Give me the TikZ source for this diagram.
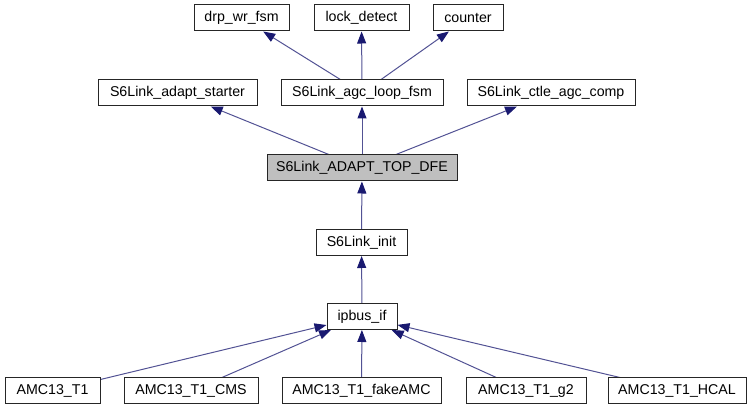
\documentclass[tikz,border=0pt]{standalone}
\usepackage{fontspec}
\setmainfont{Liberation Sans}
\usepackage{tikz}
\usetikzlibrary{arrows.meta}
\pgfdeclarelayer{bg}
\pgfsetlayers{bg,main}
\definecolor{midnight}{HTML}{191970}
\definecolor{topgray}{HTML}{BFBFBF}
\tikzset{
    every node/.style={rectangle, inner sep=0pt, draw=black!85, line width=1pt, fill=white,
      minimum height=26pt, font=\fontsize{14.2}{17}\selectfont}
}
\tikzset{inh/.style={draw=midnight!75, line width=1pt,
    {Triangle[length=12pt,width=9pt,color=midnight]}-}}

\begin{document}
\begin{tikzpicture}
  \useasboundingbox (0pt,0pt) rectangle (753pt,-411pt);

  \node[minimum width=95pt] (drp) at (241.5pt, -18pt) {drp\_wr\_fsm};
  \node[minimum width=95pt] (lock) at (361.5pt, -18pt) {lock\_detect};
  \node[minimum width=70pt] (cnt) at (468pt, -18pt) {counter};

  \node[minimum width=159pt] (starter) at (177.5pt, -93pt) {S6Link\_adapt\_starter};
  \node[minimum width=162pt] (agc) at (362pt, -93pt) {S6Link\_agc\_loop\_fsm};
  \node[minimum width=168pt] (ctle) at (551pt, -93pt) {S6Link\_ctle\_agc\_comp};

  \node[minimum width=190pt, fill=topgray] (top) at (362pt, -168pt) {S6Link\_ADAPT\_TOP\_DFE};

  \node[minimum width=91pt] (init) at (361.5pt, -242.5pt) {S6Link\_init};

  \node[minimum width=70pt] (ipbus) at (362pt, -316.5pt) {ipbus\_if};

  \node[minimum width=95pt] (t1) at (52.5pt, -391pt) {AMC13\_T1};
  \node[minimum width=134pt] (cms) at (191pt, -391pt) {AMC13\_T1\_CMS};
  \node[minimum width=159pt] (fake) at (361.5pt, -391pt) {AMC13\_T1\_fakeAMC};
  \node[minimum width=120pt] (g2) at (526pt, -391pt) {AMC13\_T1\_g2};
  \node[minimum width=138pt] (hcal) at (677pt, -391pt) {AMC13\_T1\_HCAL};

  \begin{pgfonlayer}{bg}
	  \draw[inh] (drp) -- (agc); \draw[inh] (lock) -- (agc);
	  \draw[inh] (cnt) -- (agc);

	  \draw[inh] (starter) -- (top); \draw[inh] (agc) -- (top);
	  \draw[inh] (ctle) -- (top);

	  \draw[inh] (top) -- (init);
	  \draw[inh] (init) -- (ipbus);

	  \draw[inh] (ipbus) -- (t1); \draw[inh] (ipbus) -- (cms);
	  \draw[inh] (ipbus) -- (fake); \draw[inh] (ipbus) -- (g2);
	  \draw[inh] (ipbus) -- (hcal);
  \end{pgfonlayer}

\end{tikzpicture}
\end{document}
